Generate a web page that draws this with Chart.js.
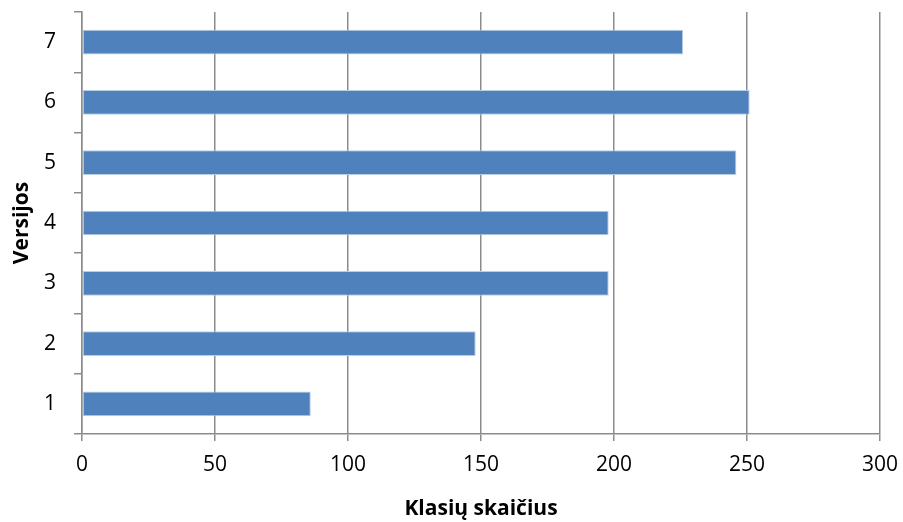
<!DOCTYPE html>
<html>
<head>
<meta charset="utf-8">
<script src="https://cdn.jsdelivr.net/npm/chart.js@4"></script>
<style>
  html, body { margin: 0; padding: 0; background: #fff; }
  #wrap { width: 903px; height: 522px; }
</style>
</head>
<body>
<div id="wrap"><canvas id="chart" width="903" height="522"></canvas></div>
<script>
const versions = ['1', '2', '3', '4', '5', '6', '7'];
const classCounts = [86, 148, 198, 198, 246, 251, 226];
const xTicks = [0, 50, 100, 150, 200, 250, 300];

const axisGray = '#8c8c8c';
const font = { family: "'Open Sans', 'Liberation Sans', sans-serif", size: 21 };
const titleFont = { family: font.family, size: 21, weight: 'bold' };

new Chart(document.getElementById('chart'), {
    type: 'bar',
    data: {
        labels: versions,
        datasets: [{
            data: classCounts,
            backgroundColor: '#4f81bd',
            borderColor: '#b9cde5',
            borderWidth: 1,
            borderSkipped: false,
            categoryPercentage: 1,
            barPercentage: 0.41
        }]
    },
    options: {
        indexAxis: 'y',
        responsive: false,
        animation: false,
        layout: { padding: { top: 12, right: 23, left: 0, bottom: 0 } },
        plugins: {
            legend: { display: false },
            tooltip: { enabled: false }
        },
        scales: {
            x: {
                min: 0,
                max: 300,
                afterBuildTicks: scale => { scale.ticks = xTicks.map(v => ({ value: v })); },
                afterFit: scale => {
                    scale.height = 88;
                    scale.paddingLeft = 0;
                    scale.paddingRight = 0;
                },
                grid: {
                    color: axisGray,
                    lineWidth: 1.5,
                    tickLength: 7,
                    drawOnChartArea: true
                },
                border: { color: axisGray, width: 1.5 },
                ticks: { color: '#000', font: font, padding: 11 },
                title: {
                    display: true,
                    text: 'Klasių skaičius',
                    color: '#000',
                    font: titleFont,
                    padding: { top: 4, bottom: 0 }
                }
            },
            y: {
                reverse: true,
                afterFit: scale => {
                    scale.width = 82;
                    scale.paddingTop = 0;
                    scale.paddingBottom = 0;
                },
                grid: {
                    color: axisGray,
                    lineWidth: 1.5,
                    tickLength: 8,
                    drawOnChartArea: false,
                    offset: true
                },
                border: { color: axisGray, width: 1.5 },
                ticks: { color: '#000', font: font, padding: 18 },
                title: {
                    display: true,
                    text: 'Versijos',
                    color: '#000',
                    font: titleFont,
                    padding: { top: 9, bottom: 0 }
                }
            }
        }
    }
});
</script>
</body>
</html>
